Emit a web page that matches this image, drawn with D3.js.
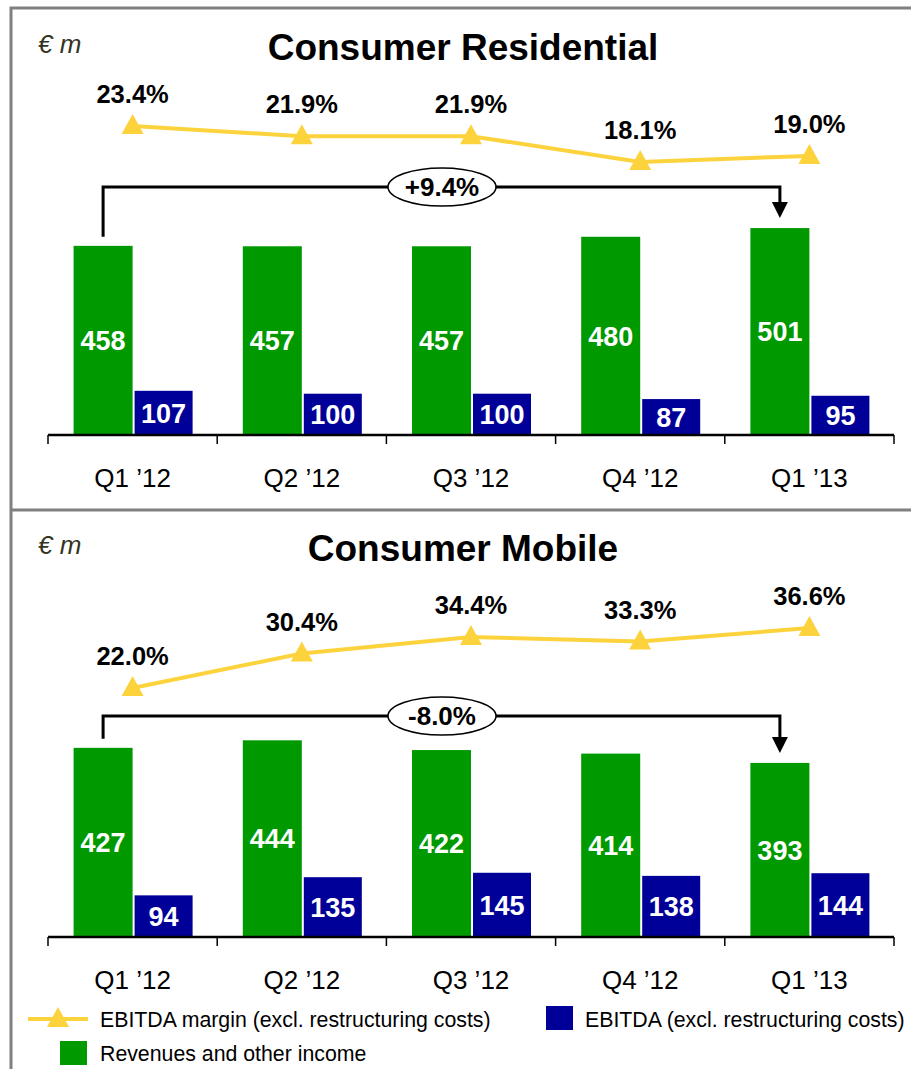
<!DOCTYPE html>
<html>
<head>
<meta charset="utf-8">
<script src="https://cdn.jsdelivr.net/npm/d3@7"></script>
<style>
  body { margin: 0; background: #fff; }
  text { font-family: "Liberation Sans", Arial, sans-serif; }
</style>
</head>
<body>
<script>
// chart values
const categories = ["Q1 \u201912", "Q2 \u201912", "Q3 \u201912", "Q4 \u201912", "Q1 \u201913"];
const resRevenue = [458, 457, 457, 480, 501];
const resEbitda = [107, 100, 100, 87, 95];
const resMargin = [23.4, 21.9, 21.9, 18.1, 19.0];
const mobRevenue = [427, 444, 422, 414, 393];
const mobEbitda = [94, 135, 145, 138, 144];
const mobMargin = [22.0, 30.4, 34.4, 33.3, 36.6];
const panelTitles = ["Consumer Residential", "Consumer Mobile"];
const panelChange = ["+9.4%", "-8.0%"];
const legendLabels = ["EBITDA margin (excl. restructuring costs)", "EBITDA (excl. restructuring costs)", "Revenues and other income"];

const W = 911, H = 1069;
const GREEN = "#009900", BLUE = "#000099", YELLOW = "#FDD33D";

const svg = d3.select("body").append("svg")
  .attr("width", W)
  .attr("height", H);

// frame
svg.append("rect")
  .attr("x", 11).attr("y", 8)
  .attr("width", W + 10).attr("height", H + 10)
  .attr("fill", "none")
  .attr("stroke", "#808080")
  .attr("stroke-width", 3);
svg.append("line")
  .attr("x1", 11).attr("x2", W + 5)
  .attr("y1", 510).attr("y2", 510)
  .attr("stroke", "#808080")
  .attr("stroke-width", 3);

const x = d3.scaleBand().domain(categories).range([48, 894]);
const cx = c => x(c) + x.bandwidth() / 2;

const panels = [
  { title: panelTitles[0], change: panelChange[0], rev: resRevenue, ebitda: resEbitda, margin: resMargin,
    top: 0, axisY: 435, pxPerUnit: 0.413, mDomain: [18.1, 23.4], mRange: [162, 126], bracketY: 187 },
  { title: panelTitles[1], change: panelChange[1], rev: mobRevenue, ebitda: mobEbitda, margin: mobMargin,
    top: 501, axisY: 937, pxPerUnit: 0.443, mDomain: [22.0, 36.6], mRange: [688, 628], bracketY: 716 }
];

panels.forEach(p => {
  const g = svg.append("g");
  const y = d3.scaleLinear().domain([0, 1000]).range([p.axisY, p.axisY - 1000 * p.pxPerUnit]);
  const ym = d3.scaleLinear().domain(p.mDomain).range(p.mRange);

  g.append("text")
    .attr("x", 38).attr("y", p.top + 53)
    .attr("font-size", 26).attr("font-style", "italic")
    .attr("fill", "#333322")
    .text("\u20ac m");

  g.append("text")
    .attr("x", 463).attr("y", p.top + 60)
    .attr("text-anchor", "middle")
    .attr("font-size", 37).attr("font-weight", "bold")
    .text(p.title);

  // bars
  g.selectAll(".rev").data(p.rev).enter().append("rect")
    .attr("x", (d, i) => cx(categories[i]) - 59)
    .attr("width", 59)
    .attr("y", d => y(d))
    .attr("height", d => y(0) - y(d))
    .attr("fill", GREEN);
  g.selectAll(".ebt").data(p.ebitda).enter().append("rect")
    .attr("x", (d, i) => cx(categories[i]) + 2)
    .attr("width", 58)
    .attr("y", d => y(d))
    .attr("height", d => y(0) - y(d))
    .attr("fill", BLUE);

  g.selectAll(".revlbl").data(p.rev).enter().append("text")
    .attr("x", (d, i) => cx(categories[i]) - 29.5)
    .attr("y", d => (y(d) + y(0)) / 2)
    .attr("dy", "0.36em")
    .attr("text-anchor", "middle")
    .attr("font-size", 27).attr("font-weight", "bold")
    .attr("fill", "#fff")
    .text(d => d);
  g.selectAll(".ebtlbl").data(p.ebitda).enter().append("text")
    .attr("x", (d, i) => cx(categories[i]) + 31)
    .attr("y", d => (y(d) + y(0)) / 2)
    .attr("dy", "0.36em")
    .attr("text-anchor", "middle")
    .attr("font-size", 27).attr("font-weight", "bold")
    .attr("fill", "#fff")
    .text(d => d);

  // axis
  const axis = d3.axisBottom(x).tickSize(0).tickPadding(0);
  const ag = g.append("g").attr("transform", `translate(0,${p.axisY})`).call(axis);
  ag.select(".domain").attr("stroke", "#000").attr("stroke-width", 2.5).attr("d", `M48,0H894`);
  ag.selectAll(".tick text")
    .attr("y", 34)
    .attr("font-size", 26)
    .attr("font-family", "Liberation Sans, Arial, sans-serif")
    .attr("fill", "#000");
  g.selectAll(".sep").data(d3.range(categories.length + 1)).enter().append("line")
    .attr("x1", i => 48 + i * x.step()).attr("x2", i => 48 + i * x.step())
    .attr("y1", p.axisY).attr("y2", p.axisY + 9)
    .attr("stroke", "#000").attr("stroke-width", 1.5);

  // bracket with arrow
  const x0 = cx(categories[0]) - 29.5;
  const x1 = cx(categories[categories.length - 1]) - 29.5;
  const yL = y(p.rev[0]) - 9;
  const yR = y(p.rev[p.rev.length - 1]) - 10;
  g.append("path")
    .attr("d", `M${x0},${yL}V${p.bracketY}H${x1}V${yR - 12}`)
    .attr("fill", "none").attr("stroke", "#000").attr("stroke-width", 3);
  g.append("path")
    .attr("d", `M${x1 - 8},${yR - 16}L${x1 + 8},${yR - 16}L${x1},${yR}Z`)
    .attr("fill", "#000");
  g.append("ellipse")
    .attr("cx", 442).attr("cy", p.bracketY)
    .attr("rx", 54).attr("ry", 19)
    .attr("fill", "#fff").attr("stroke", "#000").attr("stroke-width", 1.5);
  g.append("text")
    .attr("x", 442).attr("y", p.bracketY)
    .attr("dy", "0.36em")
    .attr("text-anchor", "middle")
    .attr("font-size", 26).attr("font-weight", "bold")
    .text(p.change);

  // margin line
  const line = d3.line().x((d, i) => cx(categories[i])).y(d => ym(d));
  g.append("path").datum(p.margin)
    .attr("d", line)
    .attr("fill", "none").attr("stroke", YELLOW).attr("stroke-width", 4);
  g.selectAll(".tri").data(p.margin).enter().append("path")
    .attr("transform", (d, i) => `translate(${cx(categories[i])},${ym(d)})`)
    .attr("d", "M0,-12L11,8L-11,8Z")
    .attr("fill", YELLOW);
  g.selectAll(".mlbl").data(p.margin).enter().append("text")
    .attr("x", (d, i) => cx(categories[i]))
    .attr("y", d => ym(d) - 32)
    .attr("dy", "0.36em")
    .attr("text-anchor", "middle")
    .attr("font-size", 25.5).attr("font-weight", "bold")
    .text(d => d.toFixed(1) + "%");
});

// legend
const lg = svg.append("g");
lg.append("line").attr("x1", 28).attr("x2", 88).attr("y1", 1019).attr("y2", 1019)
  .attr("stroke", YELLOW).attr("stroke-width", 4);
lg.append("path").attr("transform", "translate(58,1019)").attr("d", "M0,-12L11,8L-11,8Z").attr("fill", YELLOW);
lg.append("text").attr("x", 100).attr("y", 1019).attr("dy", "0.36em").attr("font-size", 21.3).text(legendLabels[0]);
lg.append("rect").attr("x", 546).attr("y", 1006).attr("width", 27).attr("height", 24).attr("fill", BLUE);
lg.append("text").attr("x", 585).attr("y", 1019).attr("dy", "0.36em").attr("font-size", 21.3).text(legendLabels[1]);
lg.append("rect").attr("x", 60).attr("y", 1041).attr("width", 27).attr("height", 24).attr("fill", GREEN);
lg.append("text").attr("x", 100).attr("y", 1053).attr("dy", "0.36em").attr("font-size", 21.3).text(legendLabels[2]);
</script>
</body>
</html>
